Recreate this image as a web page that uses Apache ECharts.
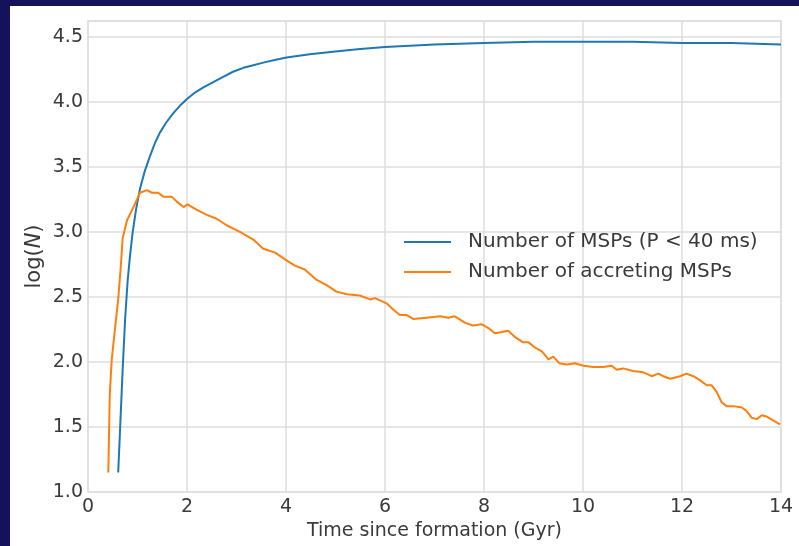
<!DOCTYPE html>
<html>
<head>
<meta charset="utf-8">
<script src="https://cdn.jsdelivr.net/npm/echarts@6/dist/echarts.min.js"></script>
<style>
  html, body {
    margin: 0;
    padding: 0;
    width: 799px;
    height: 546px;
    background: #15125c;
    overflow: hidden;
  }
  #chart {
    position: absolute;
    left: 10px;
    top: 6px;
    width: 789px;
    height: 540px;
    background: #ffffff;
  }
</style>
</head>
<body>
<div id="chart"></div>
<script>
// Number of MSPs (P < 40 ms)
const mspTime = [0.61, 0.65, 0.70, 0.75, 0.80, 0.85, 0.90, 0.97, 1.05, 1.15, 1.25, 1.35, 1.45, 1.58, 1.72, 1.86, 2.0, 2.16, 2.33, 2.53, 2.73, 2.93,
  3.14, 3.34, 3.54, 3.77, 4.01, 4.48, 5.09, 5.5, 6.0, 7.0, 8.0, 9.0, 10.0, 11.0, 12.0, 13.0, 14.0]
const mspLogN = [1.15, 1.50, 1.94, 2.33, 2.62, 2.82, 2.99, 3.17, 3.33, 3.47, 3.58, 3.68, 3.76, 3.84, 3.91, 3.97, 4.02, 4.07, 4.11, 4.15, 4.19, 4.23,
  4.26, 4.28, 4.30, 4.32, 4.34, 4.365, 4.39, 4.405, 4.42, 4.44, 4.45, 4.46, 4.46, 4.46, 4.45, 4.45, 4.44]

// Number of accreting MSPs
const accTime = [0.41, 0.44, 0.48, 0.53, 0.61, 0.66, 0.70, 0.79, 0.92, 1.05, 1.19, 1.29, 1.42, 1.52, 1.69, 1.80, 1.93, 2.01, 2.19, 2.40, 2.60, 2.80,
  3.07, 3.34, 3.54, 3.78, 4.01, 4.18, 4.38, 4.62, 4.82, 5.02, 5.23, 5.49, 5.70, 5.80, 6.03, 6.17, 6.30, 6.44, 6.57, 6.84,
  7.11, 7.28, 7.41, 7.62, 7.78, 7.95, 8.09, 8.22, 8.36, 8.49, 8.63, 8.79, 8.90, 9.03, 9.17, 9.30, 9.40, 9.52, 9.67, 9.84,
  10.01, 10.21, 10.41, 10.58, 10.68, 10.81, 11.01, 11.22, 11.39, 11.52, 11.62, 11.76, 11.96, 12.09, 12.23, 12.36, 12.50, 12.60, 12.70, 12.80,
  12.90, 13.04, 13.21, 13.31, 13.41, 13.51, 13.61, 13.71, 13.84, 13.98]
const accLogN = [1.15, 1.75, 2.02, 2.20, 2.48, 2.72, 2.95, 3.09, 3.19, 3.30, 3.32, 3.30, 3.30, 3.27, 3.27, 3.23, 3.19, 3.21, 3.17, 3.13, 3.10, 3.05,
  3.00, 2.94, 2.87, 2.84, 2.78, 2.74, 2.71, 2.63, 2.59, 2.54, 2.52, 2.51, 2.48, 2.49, 2.45, 2.40, 2.36, 2.36, 2.33, 2.34,
  2.35, 2.34, 2.35, 2.30, 2.28, 2.29, 2.26, 2.22, 2.23, 2.24, 2.19, 2.15, 2.15, 2.11, 2.08, 2.02, 2.04, 1.99, 1.98, 1.99,
  1.97, 1.96, 1.96, 1.97, 1.94, 1.95, 1.93, 1.92, 1.89, 1.91, 1.89, 1.87, 1.89, 1.91, 1.89, 1.86, 1.82, 1.82, 1.77, 1.69,
  1.66, 1.66, 1.65, 1.62, 1.57, 1.56, 1.59, 1.58, 1.55, 1.52]

const seriesNames = ['Number of MSPs (P < 40 ms)', 'Number of accreting MSPs']
const seriesColors = ['#1f77b4', '#ff7f0e']
const xTicks = { min: 0, max: 14, interval: 2 }
const yTicks = { min: 1.0, max: 4.62, interval: 0.5 }

const textColor = '#3a3a3a'
const gridColor = '#dedede'
const font = 'DejaVu Sans'

const toPairs = (xs, ys) => xs.map((x, i) => [x, ys[i]])

const myChart = echarts.init(document.getElementById('chart'))
const option = {
    animation: false,
    textStyle: { fontFamily: font },
    grid: {
        left: 78,
        right: 18,
        top: 15,
        bottom: 54,
        show: true,
        borderColor: gridColor,
        borderWidth: 1.5
    },
    legend: {
        orient: 'vertical',
        left: 389,
        top: 221,
        icon: 'rect',
        itemWidth: 47,
        itemHeight: 2,
        itemGap: 10,
        data: seriesNames,
        textStyle: {
            fontFamily: font,
            fontSize: 20,
            color: textColor,
            padding: [0, 0, 0, 12]
        }
    },
    xAxis: {
        type: 'value',
        min: xTicks.min,
        max: xTicks.max,
        interval: xTicks.interval,
        name: 'Time since formation (Gyr)',
        nameLocation: 'middle',
        nameGap: 30,
        nameMoveOverlap: false,
        nameTextStyle: { fontFamily: font, fontSize: 19, color: textColor },
        axisLine: { show: false },
        axisTick: { show: false },
        axisLabel: { fontFamily: font, fontSize: 19, color: textColor, margin: 6 },
        splitLine: { show: true, lineStyle: { color: gridColor, width: 1.5 } }
    },
    yAxis: {
        type: 'value',
        min: yTicks.min,
        max: yTicks.max,
        interval: yTicks.interval,
        name: '{n|log(}{i|N}{n|)}',
        nameLocation: 'middle',
        nameGap: 43,
        nameRotate: 90,
        nameMoveOverlap: false,
        nameTextStyle: {
            rich: {
                n: { fontFamily: font, fontSize: 21, color: textColor },
                i: { fontFamily: font, fontSize: 21, color: textColor, fontStyle: 'italic' }
            }
        },
        axisLine: { show: false },
        axisTick: { show: false },
        axisLabel: {
            fontFamily: font,
            fontSize: 19,
            color: textColor,
            margin: 5,
            showMaxLabel: false,
            formatter: (v) => v.toFixed(1)
        },
        splitLine: { show: true, lineStyle: { color: gridColor, width: 1.5 } }
    },
    series: [
        {
            name: seriesNames[0],
            type: 'line',
            symbol: 'none',
            color: seriesColors[0],
            lineStyle: { width: 2, color: seriesColors[0] },
            data: toPairs(mspTime, mspLogN)
        },
        {
            name: seriesNames[1],
            type: 'line',
            symbol: 'none',
            color: seriesColors[1],
            lineStyle: { width: 2, color: seriesColors[1] },
            data: toPairs(accTime, accLogN)
        }
    ]
}
option && myChart.setOption(option)
</script>
</body>
</html>
